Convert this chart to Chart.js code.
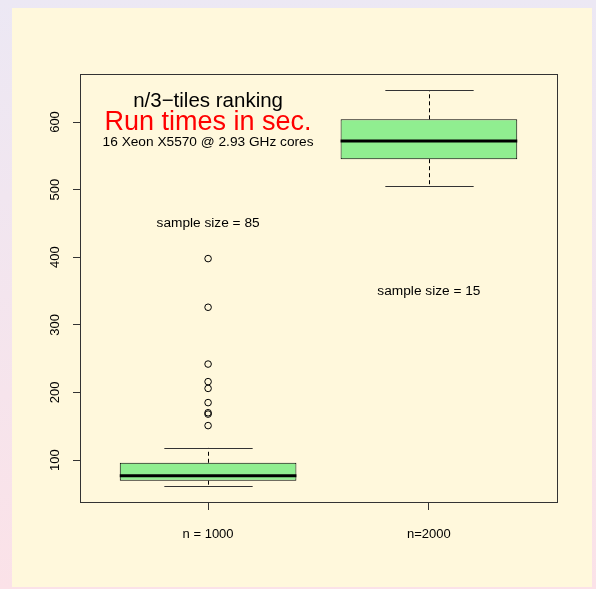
<!DOCTYPE html>
<html>
<head>
<meta charset="utf-8">
<script src="https://cdn.jsdelivr.net/npm/chart.js@4"></script>
<style>
  html, body { margin: 0; padding: 0; }
  body {
    width: 596px; height: 589px; position: relative; overflow: hidden;
    background: linear-gradient(#ece8f4, #fbe2e8);
  }
  #panel { position: absolute; left: 12px; top: 8px; width: 580px; height: 579px; background: #fff8dc; }
  #runChart { position: absolute; left: 0; top: 0; }
</style>
</head>
<body>
<div id="panel"></div>
<canvas id="runChart" width="596" height="589"></canvas>
<script>
// box statistics (seconds)
const categories = ['n = 1000', 'n=2000'];
const lowerWhisker = [62, 506];
const q1 = [69.5, 545];
const medians = [77, 572];
const q3 = [96, 604];
const upperWhisker = [118, 647];
const outliers = [
    [398, 326, 242, 216, 206, 185, 170, 168, 151],
    []
];
const yTicks = [100, 200, 300, 400, 500, 600];

// text placed in data units, like R's text()
const notes = [
    { text: 'n/3\u2212tiles ranking', x: 1, y: 631, size: 20.5, color: '#000' },
    { text: 'Run times in sec.', x: 1, y: 599, size: 27, color: '#ff0000' },
    { text: '16 Xeon X5570 @ 2.93 GHz cores', x: 1, y: 570, size: 13.7, color: '#000' },
    { text: 'sample size = 85', x: 1, y: 450, size: 13.7, color: '#000' },
    { text: 'sample size = 15', x: 2, y: 350, size: 13.7, color: '#000' }
];

const FONT = '"Liberation Sans", Arial, Helvetica, sans-serif';
Chart.defaults.font.family = FONT;
Chart.defaults.color = '#000';

// whiskers, medians, notes and the frame around the plot region
const boxExtras = {
    id: 'boxExtras',
    afterDatasetsDraw(chart) {
        const ctx = chart.ctx;
        const x = chart.scales.x, y = chart.scales.y;
        const bars = chart.getDatasetMeta(0).data;
        ctx.save();
        bars.forEach((bar, i) => {
            const cx = Math.round(bar.x) + 0.5;
            const half = bar.width / 2;
            const yLow = y.getPixelForValue(lowerWhisker[i]);
            const yQ1 = y.getPixelForValue(q1[i]);
            const yQ3 = y.getPixelForValue(q3[i]);
            const yUp = y.getPixelForValue(upperWhisker[i]);
            const yMed = y.getPixelForValue(medians[i]);

            ctx.strokeStyle = '#000';
            ctx.lineWidth = 1;
            ctx.setLineDash([4, 3]);
            ctx.beginPath();
            ctx.moveTo(cx, yQ3); ctx.lineTo(cx, yUp);
            ctx.moveTo(cx, yQ1); ctx.lineTo(cx, yLow);
            ctx.stroke();

            ctx.setLineDash([]);
            ctx.strokeStyle = '#333';
            ctx.beginPath();
            ctx.moveTo(cx - half / 2, Math.round(yUp) + 0.5); ctx.lineTo(cx + half / 2, Math.round(yUp) + 0.5);
            ctx.moveTo(cx - half / 2, Math.round(yLow) + 0.5); ctx.lineTo(cx + half / 2, Math.round(yLow) + 0.5);
            ctx.stroke();

            ctx.strokeStyle = '#000';
            ctx.lineWidth = 3;
            ctx.beginPath();
            ctx.moveTo(bar.x - half, yMed); ctx.lineTo(bar.x + half, yMed);
            ctx.stroke();
        });

        notes.forEach(n => {
            ctx.font = n.size + 'px ' + FONT;
            ctx.fillStyle = n.color;
            ctx.textAlign = 'center';
            ctx.textBaseline = 'middle';
            ctx.fillText(n.text, x.getPixelForValue(n.x), y.getPixelForValue(n.y));
        });

        const a = chart.chartArea;
        ctx.strokeStyle = '#333';
        ctx.lineWidth = 1;
        ctx.strokeRect(a.left + 0.5, a.top + 0.5, a.right - a.left, a.bottom - a.top);
        ctx.restore();
    }
};

const outlierPoints = [];
outliers.forEach((list, i) => list.forEach(v => outlierPoints.push({ x: i + 1, y: v })));

new Chart(document.getElementById('runChart'), {
    type: 'bar',
    data: {
        datasets: [{
            label: 'box',
            data: categories.map((c, i) => ({ x: i + 1, y: [q1[i], q3[i]] })),
            backgroundColor: '#90ee90',
            borderColor: '#000',
            borderWidth: 1,
            borderSkipped: false,
            barPercentage: 0.8,
            categoryPercentage: 1
        }, {
            type: 'scatter',
            label: 'outliers',
            data: outlierPoints,
            pointRadius: 3.3,
            pointBackgroundColor: 'rgba(0,0,0,0)',
            pointBorderColor: '#000',
            pointBorderWidth: 1
        }]
    },
    options: {
        responsive: false,
        animation: false,
        layout: { padding: { left: 0, top: 74, right: 39, bottom: 0 } },
        plugins: { legend: { display: false }, tooltip: { enabled: false } },
        scales: {
            x: {
                type: 'linear',
                min: 0.42,
                max: 2.58,
                offset: false,
                afterBuildTicks: s => { s.ticks = categories.map((c, i) => ({ value: i + 1 })); },
                afterFit: s => { s.height = 87; },
                ticks: {
                    callback: v => categories[v - 1],
                    font: { size: 13 },
                    padding: 17,
                    maxRotation: 0,
                    autoSkip: false
                },
                grid: { offset: false, drawOnChartArea: false, drawTicks: true, tickLength: 8, color: '#333' },
                border: { display: false }
            },
            y: {
                min: 38,
                max: 671,
                afterBuildTicks: s => { s.ticks = yTicks.map(v => ({ value: v })); },
                afterFit: s => { s.width = 80; },
                ticks: {
                    font: { size: 13 },
                    minRotation: 90,
                    maxRotation: 90,
                    crossAlign: 'center',
                    padding: 7
                },
                grid: { drawOnChartArea: false, drawTicks: true, tickLength: 7, color: '#333' },
                border: { display: false }
            }
        }
    },
    plugins: [boxExtras]
});
</script>
</body>
</html>
